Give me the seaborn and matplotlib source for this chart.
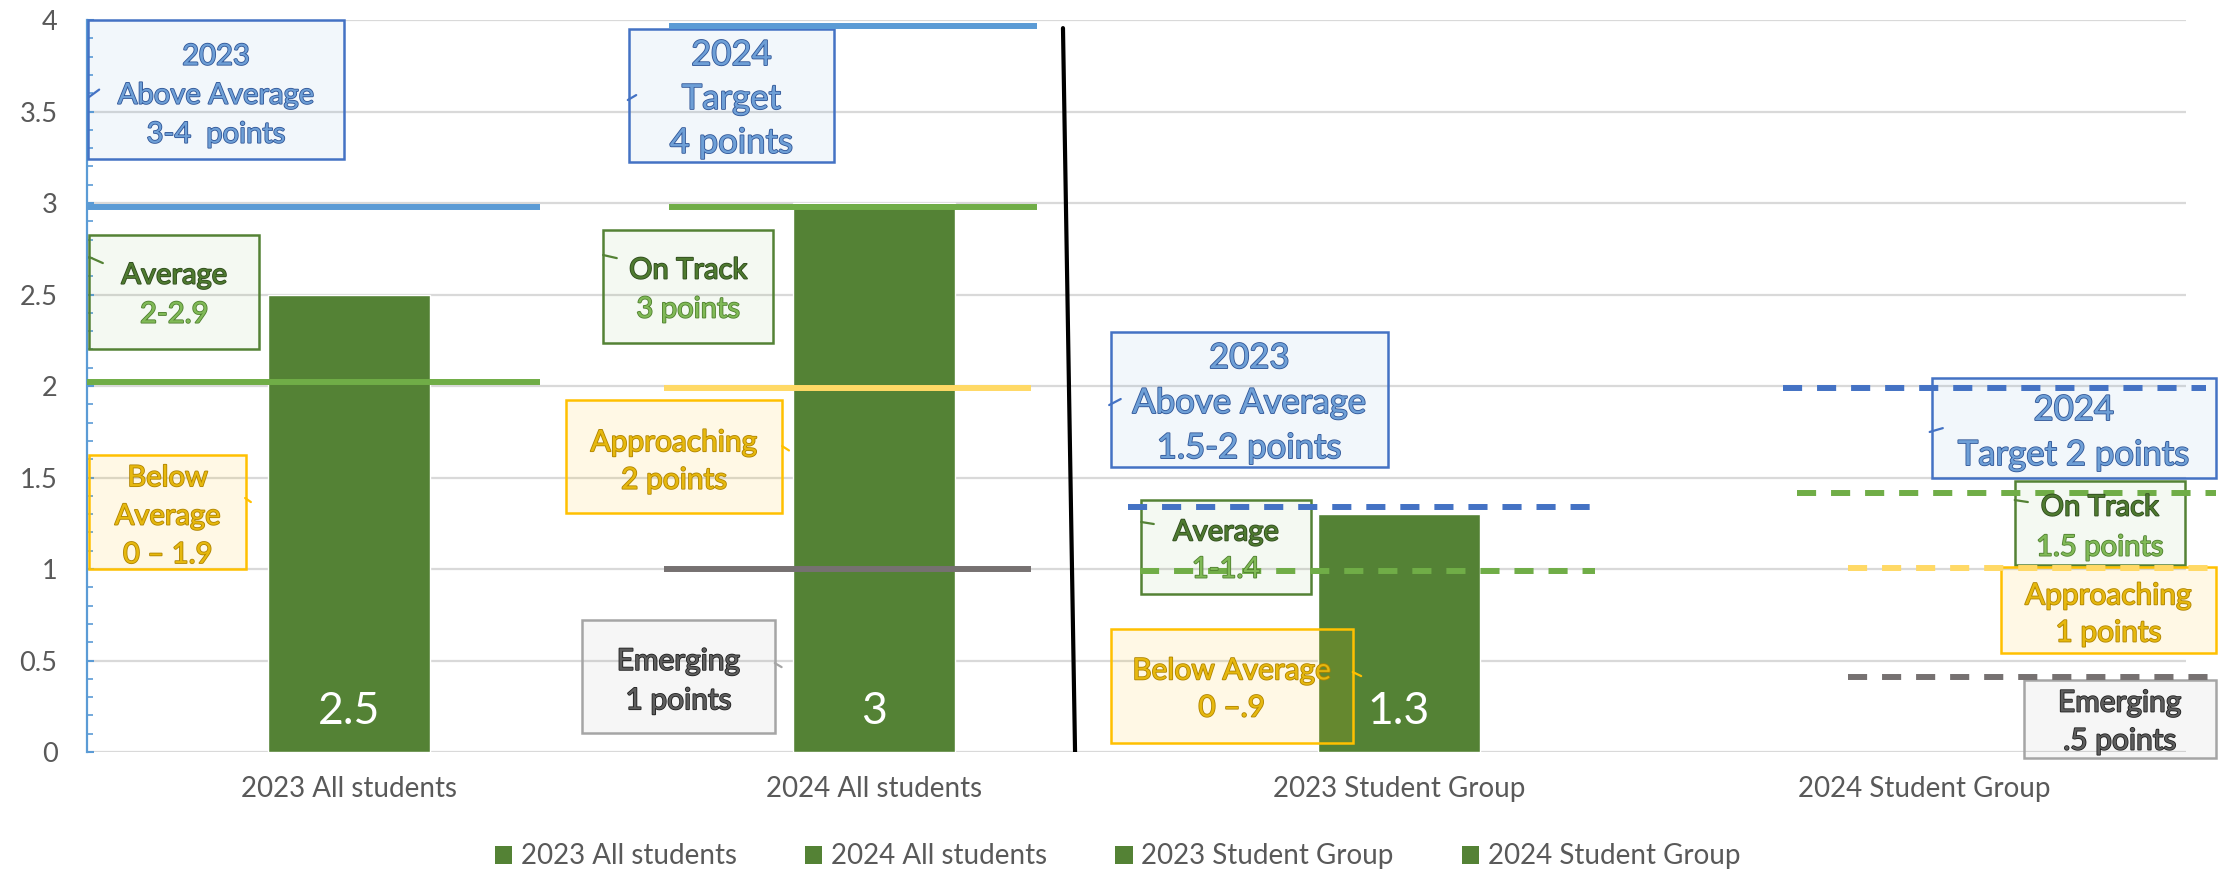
import numpy as np
import pandas as pd
import seaborn as sns
import matplotlib.pyplot as plt
import matplotlib.patheffects as pe
from matplotlib.patches import Rectangle, Patch
from matplotlib.ticker import MultipleLocator, FuncFormatter

# data
categories = ["2023 All students", "2024 All students", "2023 Student Group", "2024 Student Group"]
scores = [2.5, 3.0, 1.3, np.nan]

# hand drawn threshold lines (values as drawn in the picture)
top_level = [2.98, 3.97, 1.34, 1.99]          # Above Average / Target (blue)
mid_level = [2.02, 2.98, 0.99, 1.415]         # Average / On Track (green)
approach_level = [np.nan, 1.99, np.nan, 1.005]  # Approaching (yellow)
emerging_level = [np.nan, 1.0, np.nan, 0.41]    # Emerging (gray)

# line spans, offsets from the category centre
span_top = [(-0.5, 0.364), (-0.39, 0.31), (-0.516, 0.385), (-0.269, 0.537)]
span_mid = [(-0.5, 0.364), (-0.39, 0.31), (-0.493, 0.373), (-0.242, 0.556)]
span_low = [(0, 0), (-0.40, 0.30), (0, 0), (-0.145, 0.556)]
dashed = [False, False, True, True]

BAR = "#548235"
BLUE, GREEN, GOLD, GRAY = "#5B9BD5", "#70AD47", "#FFD966", "#767171"
DBLUE = "#4472C4"

sns.set_theme(style="white")
plt.rcParams["font.family"] = ["Lato", "DejaVu Sans"]

fig = plt.figure(figsize=(22.31, 8.72), dpi=100)
ax = fig.add_axes([0.0388, 0.1376, 0.9412, 0.8394])

df = pd.DataFrame({"group": categories, "score": scores}).dropna()
sns.barplot(data=df, x="group", y="score", order=categories, hue="group",
            hue_order=categories, palette=[BAR] * 4, width=0.31, dodge=False,
            saturation=1, errorbar=None, legend=False, ax=ax, zorder=2)

for i, v in enumerate(scores):
    if not np.isnan(v):
        ax.text(i, 0.245, f"{v:g}", ha="center", va="center_baseline",
                color="white", fontsize=32, zorder=6)

# threshold lines
def level_lines(levels, spans, color):
    for i, y in enumerate(levels):
        if np.isnan(y):
            continue
        ls = (0, (3.2, 2.5)) if dashed[i] else "-"
        col = DBLUE if (dashed[i] and color == BLUE) else color
        ax.plot([i + spans[i][0], i + spans[i][1]], [y, y], color=col, lw=4.3,
                ls=ls, solid_capstyle="butt", dash_capstyle="butt",
                zorder=5, clip_on=False)

level_lines(top_level, span_top, BLUE)
level_lines(mid_level, span_mid, GREEN)
level_lines(approach_level, span_low, GOLD)
level_lines(emerging_level, span_low, GRAY)

# divider between all students and student group
ax.plot([1.36, 1.383], [3.956, 0], color="black", lw=3, zorder=5)

# annotation boxes
box_style = {
    "blue": (DBLUE, (0.357, 0.608, 0.835, 0.08)),
    "green": ("#548235", (0.44, 0.68, 0.28, 0.07)),
    "gold": ("#FFC000", (1.0, 0.75, 0.0, 0.10)),
    "gray": ("#A5A5A5", (0.5, 0.5, 0.5, 0.07)),
}
tones = {
    "blue": ("#6E9FD6", "#2F5597"),
    "dkgreen": ("#4E7A30", "#2E4A1C"),
    "ltgreen": ("#80BA57", "#4F7F2F"),
    "gold": ("#E6B80E", "#B08400"),
    "gray": ("#5E5E5E", "#1E1E1E"),
}
boxes = [
    # x0, x1, y0, y1, style, lines, fontsize, text centre, line gap, pointer
    (-0.497, -0.010, 3.24, 4.00, "blue", [("2023", "blue"), ("Above Average", "blue"), ("3-4  points", "blue")], 21, 3.60, 0.213,
     ((-0.495, 3.58), (-0.476, 3.62))),
    (-0.495, -0.171, 2.20, 2.825, "green", [("Average", "dkgreen"), ("2-2.9", "ltgreen")], 21, 2.51, 0.213,
     ((-0.495, 2.705), (-0.469, 2.672))),
    (-0.495, -0.196, 1.00, 1.623, "gold", [("Below", "gold"), ("Average", "gold"), ("0 \u2013 1.9", "gold")], 21, 1.30, 0.21,
     ((-0.198, 1.388), (-0.187, 1.366))),
    (0.533, 0.924, 3.224, 3.951, "blue", [("2024", "blue"), ("Target", "blue"), ("4 points", "blue")], 25, 3.585, 0.24,
     ((0.531, 3.563), (0.547, 3.59))),
    (0.484, 0.808, 2.235, 2.852, "green", [("On Track", "dkgreen"), ("3 points", "ltgreen")], 21, 2.538, 0.213,
     ((0.484, 2.716), (0.51, 2.699))),
    (0.413, 0.825, 1.306, 1.923, "gold", [("Approaching", "gold"), ("2 points", "gold")], 21.5, 1.604, 0.205,
     ((0.825, 1.672), (0.838, 1.648))),
    (0.444, 0.811, 0.104, 0.721, "gray", [("Emerging", "gray"), ("1 points", "gray")], 21.5, 0.404, 0.215,
     ((0.811, 0.486), (0.824, 0.464))),
    (1.451, 1.979, 1.557, 2.295, "blue", [("2023", "blue"), ("Above Average", "blue"), ("1.5-2 points", "blue")], 25, 1.923, 0.246,
     ((1.448, 1.896), (1.470, 1.929))),
    (1.509, 1.832, 0.863, 1.377, "green", [("Average", "dkgreen"), ("1-1.4", "ltgreen")], 21, 1.112, 0.203,
     ((1.509, 1.257), (1.533, 1.246))),
    (1.451, 1.912, 0.049, 0.672, "gold", [("Below Average", "gold"), ("0 \u2013.9", "gold")], 21.5, 0.358, 0.203,
     ((1.912, 0.437), (1.928, 0.415))),
    (3.015, 3.556, 1.497, 2.044, "blue", [("2024", "blue"), ("Target 2 points", "blue")], 25, 1.762, 0.246,
     ((3.011, 1.749), (3.036, 1.770))),
    (3.173, 3.497, 1.022, 1.481, "green", [("On Track", "dkgreen"), ("1.5 points", "ltgreen")], 21, 1.240, 0.219,
     ((3.173, 1.377), (3.198, 1.366))),
    (3.147, 3.556, 0.541, 1.011, "gold", [("Approaching", "gold"), ("1 points", "gold")], 21.5, 0.768, 0.203, None),
    (3.190, 3.556, -0.033, 0.393, "gray", [("Emerging", "gray"), (".5 points", "gray")], 21.5, 0.180, 0.208, None),
]
for x0, x1, y0, y1, style, lines, fs, ymid, gap, ptr in boxes:
    edge, face = box_style[style]
    ax.add_patch(Rectangle((x0, y0), x1 - x0, y1 - y0, facecolor=face,
                           edgecolor=edge, lw=1.8, zorder=4, clip_on=False))
    if ptr is not None:
        ax.plot([ptr[0][0], ptr[1][0]], [ptr[0][1], ptr[1][1]], color=edge,
                lw=1.6, zorder=4, clip_on=False)
    n = len(lines)
    for k, (txt, tone) in enumerate(lines):
        fill, stroke = tones[tone]
        ax.text((x0 + x1) / 2, ymid + ((n - 1) / 2 - k) * gap, txt,
                ha="center", va="center_baseline", fontsize=fs, color=fill,
                zorder=6, clip_on=False,
                path_effects=[pe.withStroke(linewidth=1.2, foreground=stroke)])

# axes styling
ax.set_xlim(-0.5, 3.5)
ax.set_ylim(0, 4)
ax.set_xlabel("")
ax.set_ylabel("")
ax.yaxis.set_major_locator(MultipleLocator(0.5))
ax.yaxis.set_minor_locator(MultipleLocator(0.1))
ax.yaxis.set_major_formatter(FuncFormatter(lambda v, p: f"{v:g}"))
ax.grid(axis="y", color="#D9D9D9", lw=1.6, zorder=0)
ax.set_axisbelow(True)
for s in ["top", "right", "bottom"]:
    ax.spines[s].set_visible(False)
ax.spines["left"].set_color(BLUE)
ax.spines["left"].set_linewidth(1.6)
ax.tick_params(axis="y", which="major", direction="in", length=5, width=1.5,
               color=BLUE, labelsize=19.5, labelcolor="#595959", pad=21, left=True)
ax.tick_params(axis="y", which="minor", direction="in", length=4, width=1.2,
               color=BLUE, left=True)
ax.tick_params(axis="x", length=0, labelsize=20, labelcolor="#595959", pad=17)

handles = [Patch(facecolor=BAR, edgecolor="none", label=c) for c in categories]
fig.legend(handles=handles, loc="center", bbox_to_anchor=(0.501, 0.018), ncol=4,
           frameon=False, fontsize=20, handlelength=0.62, handleheight=0.62,
           handletextpad=0.32, columnspacing=2.45, labelcolor="#595959")

fig.savefig("out.png", dpi=100)
